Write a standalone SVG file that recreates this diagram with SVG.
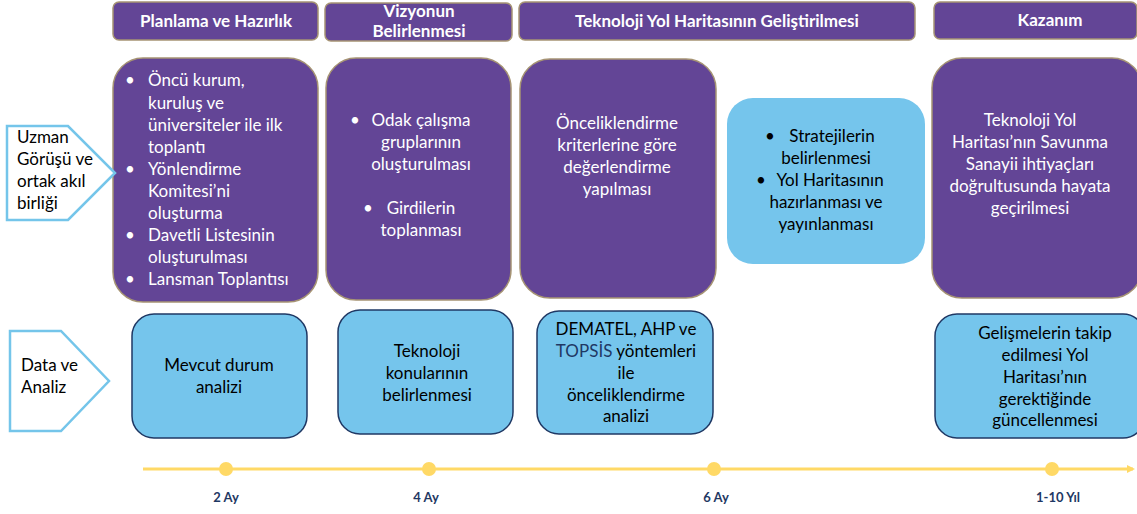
<svg xmlns="http://www.w3.org/2000/svg" width="1137" height="514" viewBox="0 0 1137 514">
<defs>
<style>
.hdr{fill:#634596;stroke:#a69474;stroke-width:1.5}
.pur{fill:#634596;stroke:#a69474;stroke-width:1.5}
.lb{fill:#75c5ec;stroke:#1f3864;stroke-width:1.5}
.lb2{fill:#75c5ec}
.pent{fill:#fff;stroke:#74c5ea;stroke-width:2.5}
text{font-family:Lato,"Liberation Sans",sans-serif}
.ht{fill:#fff;font-size:17px;font-weight:bold;text-anchor:middle}
.wt{fill:#fff;font-size:17px}
.wc{fill:#fff;font-size:17px;text-anchor:middle}
.bc{fill:#000;font-size:17px;text-anchor:middle}
.bl{fill:#000;font-size:17px}
.tl{fill:#1f3864;font-size:13px;font-weight:bold;text-anchor:middle}
</style>
<marker id="arr" markerWidth="8" markerHeight="8" refX="6" refY="4" orient="auto" markerUnits="userSpaceOnUse">
<path d="M0,0 L8,4 L0,8 z" fill="#ffd966"/>
</marker>
</defs>
<rect width="1137" height="514" fill="#fff"/>

<g id="h1"><rect class="hdr" x="113" y="2" width="205" height="38" rx="6"/><text class="ht" x="216" y="27">Planlama  ve Hazırlık</text></g>
<g id="h2"><rect class="hdr" x="325" y="3" width="187" height="38" rx="6"/><text class="ht" x="419" y="17">Vizyonun</text><text class="ht" x="419" y="37">Belirlenmesi</text></g>
<g id="h3"><rect class="hdr" x="519" y="2" width="396" height="38" rx="6"/><text class="ht" x="717" y="27">Teknoloji Yol Haritasının Geliştirilmesi</text></g>
<g id="h4"><rect class="hdr" x="934" y="2" width="203" height="37" rx="6"/><text class="ht" x="1050" y="26">Kazanım</text></g>

<g id="p1"><rect class="pur" x="113" y="58" width="205" height="244" rx="30"/>
<text class="wt"><tspan x="125" y="86">•</tspan><tspan x="148" y="86">Öncü kurum,</tspan><tspan x="148" y="109">kuruluş ve</tspan><tspan x="148" y="131">üniversiteler ile ilk</tspan><tspan x="148" y="153">toplantı</tspan><tspan x="125" y="175">•</tspan><tspan x="148" y="175">Yönlendirme</tspan><tspan x="148" y="197">Komitesi’ni</tspan><tspan x="148" y="219">oluşturma</tspan><tspan x="125" y="241">•</tspan><tspan x="148" y="241">Davetli Listesinin</tspan><tspan x="148" y="263">oluşturulması</tspan><tspan x="125" y="285">•</tspan><tspan x="148" y="285">Lansman Toplantısı</tspan></text></g>

<g id="p2"><rect class="pur" x="326" y="58" width="185" height="242" rx="30"/>
<text class="wt"><tspan x="350" y="126">•</tspan><tspan x="350" y="214" dx="13">•</tspan></text>
<text class="wc"><tspan x="421" y="126">Odak çalışma</tspan><tspan x="421" y="148">gruplarının</tspan><tspan x="421" y="170">oluşturulması</tspan><tspan x="421" y="214">Girdilerin</tspan><tspan x="421" y="236">toplanması</tspan></text></g>

<g id="p3"><rect class="pur" x="520" y="59" width="196" height="239" rx="30"/>
<text class="wc"><tspan x="617" y="129">Önceliklendirme</tspan><tspan x="617" y="151">kriterlerine göre</tspan><tspan x="617" y="173">değerlendirme</tspan><tspan x="617" y="195">yapılması</tspan></text></g>

<g id="p4"><rect class="lb2" x="727" y="98" width="198" height="166" rx="26"/>
<text class="bl"><tspan x="765" y="142">•</tspan><tspan x="756" y="186">•</tspan></text>
<text class="bc"><tspan x="832" y="142">Stratejilerin</tspan><tspan x="826" y="164">belirlenmesi</tspan><tspan x="830" y="186">Yol Haritasının</tspan><tspan x="826" y="208">hazırlanması ve</tspan><tspan x="826" y="230">yayınlanması</tspan></text></g>

<g id="p5"><rect class="pur" x="932" y="58" width="210" height="240" rx="30"/>
<text class="wc"><tspan x="1030" y="126">Teknoloji  Yol</tspan><tspan x="1030" y="148">Haritası’nın Savunma</tspan><tspan x="1030" y="170">Sanayii ihtiyaçları</tspan><tspan x="1030" y="192">doğrultusunda hayata</tspan><tspan x="1030" y="214">geçirilmesi</tspan></text></g>

<g id="a1"><polygon class="pent" points="7,126 68,126 115,173 68,220 7,220"/>
<text class="bl"><tspan x="17" y="143">Uzman</tspan><tspan x="17" y="165">Görüşü ve</tspan><tspan x="17" y="187">ortak akıl</tspan><tspan x="17" y="209">birliği</tspan></text></g>

<g id="a2"><polygon class="pent" points="10,331 61,331 109,381 61,431 10,431"/>
<text class="bl"><tspan x="21" y="371">Data ve</tspan><tspan x="21" y="393">Analiz</tspan></text></g>

<g id="b1"><rect class="lb" x="132" y="314" width="175" height="124" rx="22"/>
<text class="bc"><tspan x="219" y="371">Mevcut durum</tspan><tspan x="219" y="393">analizi</tspan></text></g>
<g id="b2"><rect class="lb" x="338" y="310" width="175" height="124" rx="22"/>
<text class="bc"><tspan x="427" y="357">Teknoloji</tspan><tspan x="427" y="379">konularının</tspan><tspan x="427" y="401">belirlenmesi</tspan></text></g>
<g id="b3"><rect class="lb" x="537" y="311" width="176" height="123" rx="22"/>
<text class="bc"><tspan x="626" y="335">DEMATEL, AHP ve</tspan><tspan x="626" y="357"><tspan fill="#1f3864">TOPSİS</tspan> yöntemleri</tspan><tspan x="626" y="379">ile</tspan><tspan x="626" y="401">önceliklendirme</tspan><tspan x="626" y="422">analizi</tspan></text></g>
<g id="b4"><rect class="lb" x="935" y="314" width="210" height="124" rx="22"/>
<text class="bc"><tspan x="1045" y="339">Gelişmelerin takip</tspan><tspan x="1045" y="361">edilmesi Yol</tspan><tspan x="1045" y="383">Haritası’nın</tspan><tspan x="1045" y="405">gerektiğinde</tspan><tspan x="1045" y="426">güncellenmesi</tspan></text></g>

<g id="connectors">
<line x1="143" y1="469" x2="1133" y2="469" stroke="#ffd966" stroke-width="3" marker-end="url(#arr)"/>
<circle cx="226" cy="469" r="7" fill="#ffd966"/>
<circle cx="429" cy="469" r="7" fill="#ffd966"/>
<circle cx="714" cy="469" r="7" fill="#ffd966"/>
<circle cx="1052" cy="469" r="7" fill="#ffd966"/>
</g>
<g id="timeline-labels">
<text class="tl" x="226" y="502">2 Ay</text>
<text class="tl" x="426" y="502">4 Ay</text>
<text class="tl" x="716" y="502">6 Ay</text>
<text class="tl" x="1058" y="502">1-10 Yıl</text>
</g>
</svg>
